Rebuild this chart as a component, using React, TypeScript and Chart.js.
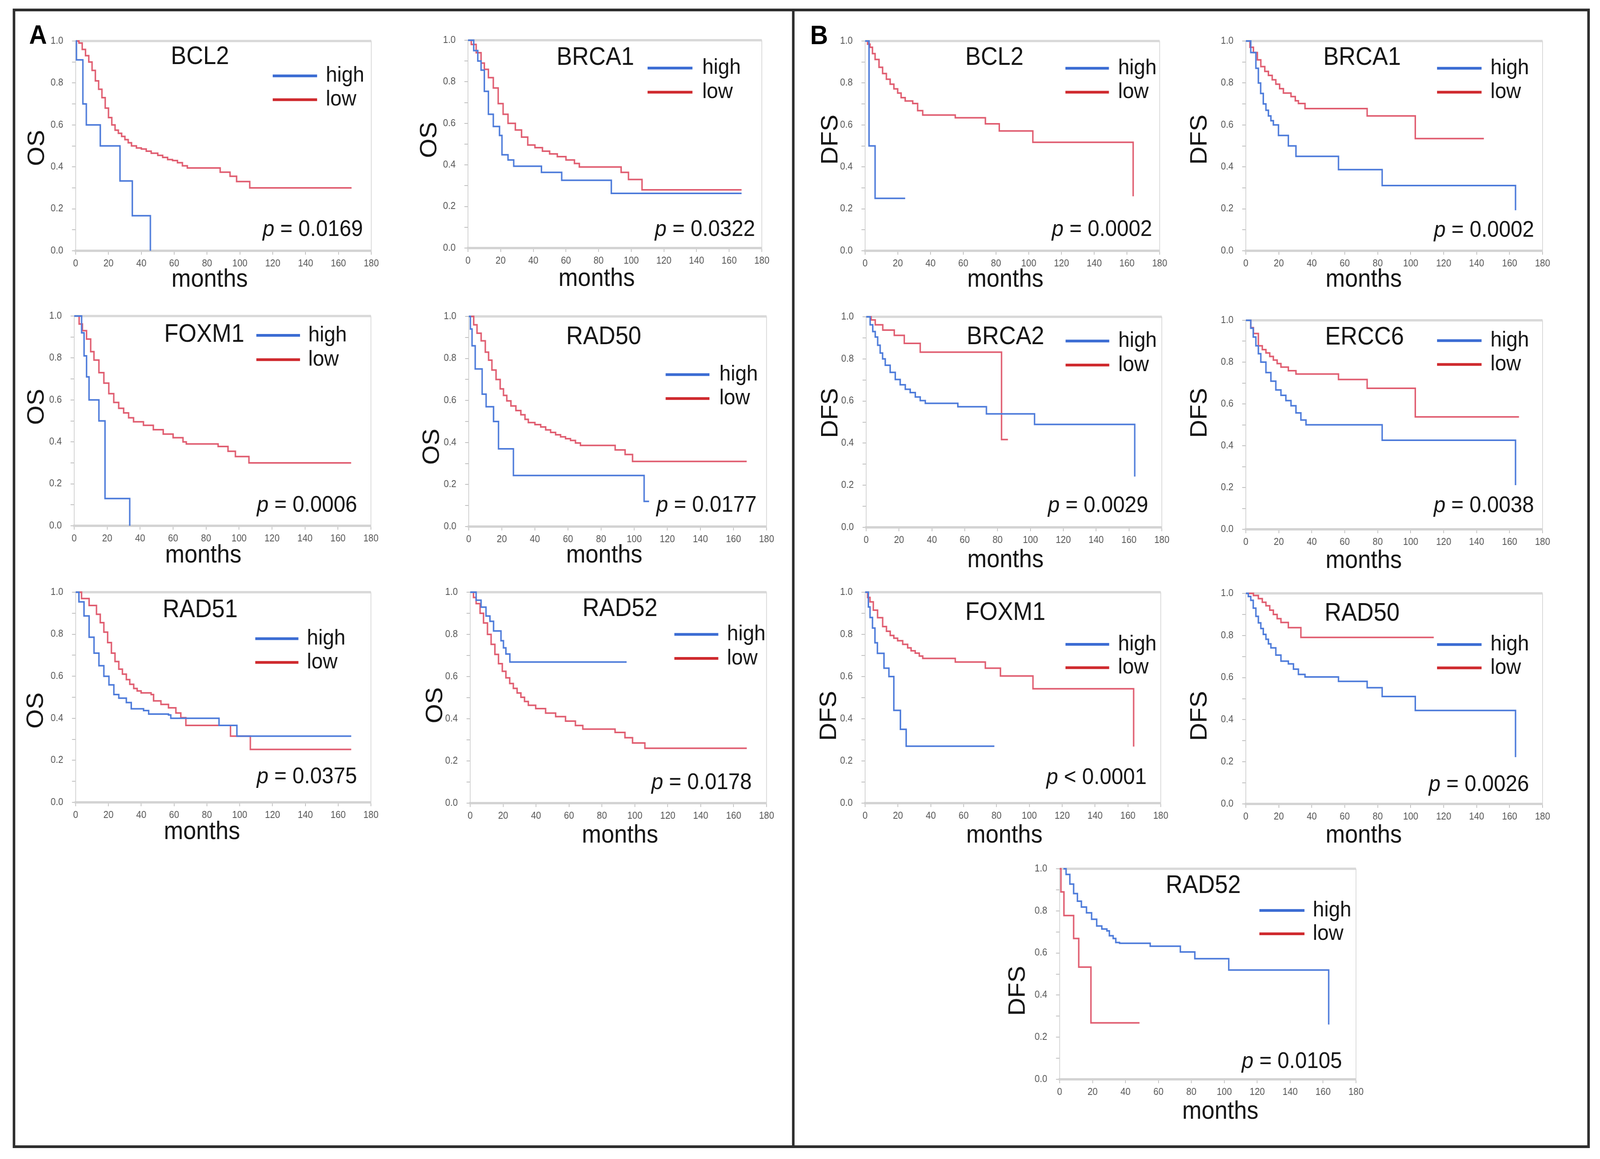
import React, { useEffect, useRef } from 'react';
import { Chart, registerables } from 'chart.js';

Chart.register(...registerables);

type Pt = [number, number];

// ---------- tick values ----------
const monthTicks = [0, 20, 40, 60, 80, 100, 120, 140, 160, 180];
const survTicks = [0, 0.1, 0.2, 0.3, 0.4, 0.5, 0.6, 0.7, 0.8, 0.9, 1.0];
const survLabels = ['0.0', '', '0.2', '', '0.4', '', '0.6', '', '0.8', '', '1.0'];

// ---------- A: overall survival (OS), [month, survival] step points ----------
const osBcl2High: Pt[] = [[0, 1], [0.5, 0.91], [4.4, 0.7], [6.5, 0.6], [15, 0.5], [27, 0.333], [34.5, 0.167], [45.5, 0]];
const osBcl2Low: Pt[] = [[0, 1], [2, 0.99], [4, 0.96], [6, 0.93], [8, 0.9], [10, 0.86], [12, 0.81], [14, 0.77], [16, 0.73], [18, 0.68], [20, 0.635], [22, 0.6], [24, 0.575], [26, 0.56], [28, 0.545], [30, 0.53], [32, 0.515], [34, 0.5], [37, 0.49], [40, 0.485], [43, 0.475], [46, 0.465], [50, 0.455], [53, 0.445], [56, 0.435], [59, 0.43], [62, 0.42], [65, 0.405], [68, 0.395], [88, 0.375], [94, 0.355], [98, 0.33], [106, 0.3], [168, 0.3]];
const osBrca1High: Pt[] = [[0, 1], [3.5, 0.95], [6, 0.9], [8, 0.856], [10, 0.754], [12.5, 0.644], [15.5, 0.585], [19.3, 0.542], [20.8, 0.449], [24.5, 0.424], [28, 0.394], [45, 0.364], [57.4, 0.326], [87.8, 0.263], [167.6, 0.263]];
const osBrca1Low: Pt[] = [[0, 1], [2, 0.98], [5, 0.94], [8, 0.89], [10, 0.86], [12.5, 0.82], [15.5, 0.77], [18.5, 0.695], [21.5, 0.644], [24.5, 0.6], [29, 0.568], [32.8, 0.534], [36.6, 0.496], [41, 0.483], [45.6, 0.466], [50, 0.453], [54.7, 0.44], [60, 0.424], [65.2, 0.407], [68.2, 0.39], [93.8, 0.364], [98.3, 0.33], [106.6, 0.28], [167.6, 0.28]];
const osFoxm1High: Pt[] = [[0, 1], [4.5, 0.92], [6, 0.81], [7.5, 0.71], [9, 0.6], [15, 0.5], [18.7, 0.13], [33.7, 0]];
const osFoxm1Low: Pt[] = [[0, 1], [3, 0.962], [5, 0.93], [7.5, 0.89], [10, 0.83], [12, 0.79], [15, 0.73], [18, 0.68], [21, 0.63], [24, 0.588], [27, 0.56], [30, 0.538], [33, 0.515], [36, 0.496], [42, 0.479], [48, 0.458], [54, 0.437], [60, 0.42], [66, 0.4], [68, 0.39], [87.3, 0.378], [93.3, 0.355], [97.8, 0.33], [106, 0.3], [168, 0.3]];
const osRad50High: Pt[] = [[0, 1], [1, 0.94], [2, 0.86], [3.9, 0.75], [8.1, 0.63], [10.5, 0.57], [15, 0.5], [18, 0.37], [27, 0.243], [106, 0.12], [109, 0.12]];
const osRad50Low: Pt[] = [[0, 1], [3, 0.96], [5, 0.92], [7.5, 0.884], [10, 0.83], [12, 0.792], [14, 0.745], [16.5, 0.7], [19, 0.655], [21, 0.624], [23, 0.598], [25.5, 0.574], [28.5, 0.552], [31.5, 0.532], [34, 0.51], [36, 0.495], [40, 0.485], [43.5, 0.474], [46.5, 0.46], [49.5, 0.448], [52.5, 0.437], [55.5, 0.427], [58.5, 0.418], [61.5, 0.41], [64.5, 0.398], [67.5, 0.386], [88.5, 0.365], [94.5, 0.343], [99, 0.31], [168, 0.31]];
const osRad51High: Pt[] = [[0, 1], [2, 0.954], [5.1, 0.887], [8.2, 0.786], [11.2, 0.71], [14.2, 0.65], [17.2, 0.6], [20.3, 0.559], [23.3, 0.513], [26.3, 0.496], [30.9, 0.475], [33.9, 0.445], [41.4, 0.437], [44.5, 0.42], [56.6, 0.416], [58, 0.4], [87.4, 0.366], [98.3, 0.315], [168, 0.315]];
const osRad51Low: Pt[] = [[0, 1], [3.6, 0.97], [8.2, 0.937], [12.7, 0.895], [15, 0.855], [17.2, 0.81], [19.5, 0.76], [21.8, 0.71], [24, 0.67], [26.3, 0.634], [28.5, 0.61], [30.9, 0.584], [33, 0.562], [35.4, 0.542], [37.5, 0.53], [39.9, 0.521], [46, 0.513], [47.5, 0.483], [52, 0.466], [56.6, 0.45], [61.1, 0.425], [64.1, 0.403], [67.2, 0.366], [94.4, 0.315], [106.5, 0.252], [168, 0.252]];
const osRad52High: Pt[] = [[0, 1], [3.6, 0.962], [6.6, 0.929], [9.6, 0.887], [12, 0.862], [14.2, 0.816], [18.7, 0.77], [20.2, 0.736], [21.7, 0.707], [24.1, 0.669], [95, 0.669]];
const osRad52Low: Pt[] = [[0, 1], [2, 0.975], [3.6, 0.946], [6, 0.9], [8.1, 0.854], [10.5, 0.8], [12.7, 0.753], [15, 0.705], [17.2, 0.661], [19.5, 0.625], [21.7, 0.594], [24, 0.567], [26.2, 0.544], [28.5, 0.522], [30.8, 0.502], [33, 0.482], [35.3, 0.464], [39.8, 0.448], [45.8, 0.427], [51.9, 0.41], [57.9, 0.389], [63.9, 0.368], [68.4, 0.351], [88, 0.335], [94, 0.31], [98.6, 0.285], [106.1, 0.26], [168, 0.26]];

// ---------- B: disease-free survival (DFS) ----------
const dfsBcl2High: Pt[] = [[0, 1], [2.4, 0.5], [6.1, 0.25], [24.5, 0.25]];
const dfsBcl2Low: Pt[] = [[0, 1], [1.5, 0.985], [3, 0.97], [4.5, 0.94], [6.1, 0.912], [8.5, 0.875], [10.7, 0.845], [13, 0.818], [15.3, 0.794], [17.6, 0.772], [19.9, 0.752], [22, 0.73], [24.5, 0.714], [29.1, 0.702], [32.1, 0.668], [35.2, 0.647], [55.1, 0.634], [73.5, 0.605], [82, 0.571], [102.5, 0.517], [163.8, 0.26]];
const dfsBrca1High: Pt[] = [[0, 1], [3, 0.945], [6.1, 0.87], [7.6, 0.8], [9, 0.75], [10.6, 0.7], [12.2, 0.67], [13.7, 0.643], [15.2, 0.62], [16.7, 0.6], [19.8, 0.55], [25.8, 0.5], [30.4, 0.45], [56.2, 0.387], [82.7, 0.311], [163.6, 0.193]];
const dfsBrca1Low: Pt[] = [[0, 1], [2.5, 0.97], [4.6, 0.945], [7, 0.91], [9.1, 0.878], [11.5, 0.855], [13.7, 0.836], [16, 0.815], [18.2, 0.794], [20.5, 0.773], [22.8, 0.752], [27.4, 0.735], [30, 0.715], [31.9, 0.702], [35.9, 0.678], [73.6, 0.643], [102.8, 0.535], [144.4, 0.535]];
const dfsBrca2High: Pt[] = [[0, 1], [2.4, 0.962], [4, 0.93], [5.5, 0.904], [7, 0.865], [8.5, 0.828], [10, 0.8], [11.6, 0.77], [14.6, 0.736], [17.7, 0.702], [20.7, 0.677], [23.8, 0.656], [26.8, 0.64], [29.9, 0.619], [32.9, 0.602], [36, 0.589], [55.8, 0.573], [73.2, 0.539], [102.5, 0.489], [163.5, 0.241]];
const dfsBrca2Low: Pt[] = [[0, 1], [3, 0.985], [5.5, 0.962], [10.1, 0.937], [17.1, 0.912], [23.2, 0.874], [32.9, 0.832], [82.4, 0.417], [86.3, 0.417]];
const dfsErcc6High: Pt[] = [[0, 1], [3, 0.962], [4.5, 0.92], [6.1, 0.878], [7.6, 0.84], [9.1, 0.8], [12.2, 0.75], [15.2, 0.709], [18.2, 0.667], [21.3, 0.641], [24.3, 0.616], [27.4, 0.591], [30.4, 0.557], [33.4, 0.523], [36.5, 0.5], [82.7, 0.426], [163.6, 0.211]];
const dfsErcc6Low: Pt[] = [[0, 1], [3, 0.965], [4.6, 0.937], [7.6, 0.878], [10, 0.86], [12.2, 0.844], [14.5, 0.827], [16.7, 0.81], [19, 0.793], [21.3, 0.776], [25.8, 0.759], [30.4, 0.743], [56.2, 0.717], [73.6, 0.675], [102.8, 0.538], [165.7, 0.538]];
const dfsFoxm1High: Pt[] = [[0, 1], [2, 0.93], [3, 0.88], [4.5, 0.83], [6, 0.76], [7.5, 0.71], [11.5, 0.64], [14.5, 0.6], [17.5, 0.44], [21.5, 0.35], [25, 0.27], [78.7, 0.27]];
const dfsFoxm1Low: Pt[] = [[0, 1], [1.5, 0.975], [3, 0.954], [5, 0.915], [7.6, 0.879], [10.7, 0.837], [13, 0.815], [15.3, 0.795], [17.5, 0.782], [19.8, 0.77], [22.9, 0.753], [25.9, 0.736], [28, 0.722], [30.5, 0.711], [33, 0.697], [35.1, 0.686], [54.9, 0.669], [73.2, 0.64], [82.4, 0.603], [102.2, 0.542], [163.5, 0.268]];
const dfsRad50High: Pt[] = [[0, 1], [1.5, 0.985], [3, 0.967], [4.5, 0.93], [6.1, 0.891], [7.6, 0.86], [9.1, 0.833], [10.6, 0.805], [12.2, 0.782], [13.7, 0.76], [15.2, 0.741], [18.2, 0.707], [21.3, 0.678], [25.8, 0.665], [28.9, 0.64], [31.9, 0.615], [35.9, 0.603], [56.2, 0.582], [73.6, 0.552], [82.7, 0.51], [102.8, 0.444], [163.6, 0.222]];
const dfsRad50Low: Pt[] = [[0, 1], [4.6, 0.99], [7.6, 0.975], [10, 0.958], [12.2, 0.941], [14.5, 0.92], [16.7, 0.9], [19, 0.88], [21.3, 0.862], [25.8, 0.837], [33.4, 0.791], [114, 0.791]];
const dfsRad52High: Pt[] = [[2.3, 1], [3.9, 0.973], [6.2, 0.927], [8.5, 0.882], [10.8, 0.846], [13.2, 0.818], [16.3, 0.791], [19.4, 0.76], [22.5, 0.728], [25.6, 0.714], [28.7, 0.705], [30.2, 0.682], [32.5, 0.669], [34.1, 0.65], [36.4, 0.646], [55, 0.632], [73.3, 0.605], [82.1, 0.573], [102.7, 0.519], [163.4, 0.26]];
const dfsRad52Low: Pt[] = [[0, 1], [0.8, 0.89], [2.6, 0.778], [8.5, 0.669], [11.6, 0.533], [19, 0.268], [48.5, 0.268]];

// ---------- styling ----------
const FONT = '"Liberation Sans", Arial, sans-serif';
const CURVE_BLUE = '#4d7bda';
const CURVE_RED = '#e05d70';
const LEG_BLUE = '#3b6cd3';
const LEG_RED = '#cf2a2e';
const TEXT = '#141414';

const PAGE_W = 4400;
const PAGE_H = 2967;
const W_Y = 170;
const PAD_T = 30;
const PAD_R = 50;
const H_X = 125;

interface Panel {
  key: string; gene: string; ylab: string; high: Pt[]; low: Pt[]; pOp: string; pVal: string;
  x0: number; x180: number; y1: number; y0: number;
  title: [number, number]; leg: [number, number, number, number, number];
  pPos: [number, number]; months: [number, number]; ylabPos: [number, number];
}

const PANELS: Panel[] = [
  { key: 'aBcl2', gene: 'BCL2', ylab: 'OS', high: osBcl2High, low: osBcl2Low, pOp: '=', pVal: '0.0169',
    x0: 208, x180: 1021, y1: 96, y0: 642, title: [75.7, 0.933], leg: [120, 147, 0.834, 0.72, 152.3], pPos: [174.9, 0.109], months: [81.6, 69], ylabPos: [-110, 0.49] },
  { key: 'aBrca1', gene: 'BRCA1', ylab: 'OS', high: osBrca1High, low: osBrca1Low, pOp: '=', pVal: '0.0322',
    x0: 1287, x180: 2095, y1: 94, y0: 635, title: [78, 0.924], leg: [110, 137.5, 0.866, 0.75, 143.5], pPos: [175.9, 0.097], months: [78.8, 74], ylabPos: [-110, 0.52] },
  { key: 'aFoxm1', gene: 'FOXM1', ylab: 'OS', high: osFoxm1High, low: osFoxm1Low, pOp: '=', pVal: '0.0006',
    x0: 204, x180: 1020, y1: 800, y0: 1346, title: [78.9, 0.92], leg: [110.5, 137, 0.908, 0.792, 142], pPos: [171.6, 0.105], months: [78.3, 71], ylabPos: [-107, 0.567] },
  { key: 'aRad50', gene: 'RAD50', ylab: 'OS', high: osRad50High, low: osRad50Low, pOp: '=', pVal: '0.0177',
    x0: 1289, x180: 2108, y1: 801, y0: 1348, title: [81.6, 0.91], leg: [119, 145.5, 0.723, 0.609, 151.5], pPos: [174, 0.109], months: [81.9, 69], ylabPos: [-105, 0.38] },
  { key: 'aRad51', gene: 'RAD51', ylab: 'OS', high: osRad51High, low: osRad51Low, pOp: '=', pVal: '0.0375',
    x0: 208, x180: 1020, y1: 1507, y0: 2054, title: [75.9, 0.924], leg: [109.5, 135.8, 0.779, 0.666, 141], pPos: [171.5, 0.13], months: [77, 71], ylabPos: [-113, 0.437] },
  { key: 'aRad52', gene: 'RAD52', ylab: 'OS', high: osRad52High, low: osRad52Low, pOp: '=', pVal: '0.0178',
    x0: 1293, x180: 2108, y1: 1507, y0: 2056, title: [91, 0.929], leg: [124, 150.7, 0.8, 0.686, 156], pPos: [171, 0.105], months: [91, 78], ylabPos: [-100, 0.464] },
  { key: 'bBcl2', gene: 'BCL2', ylab: 'DFS', high: dfsBcl2High, low: dfsBcl2Low, pOp: '=', pVal: '0.0002',
    x0: 2379, x180: 3189, y1: 96, y0: 642, title: [79, 0.929], leg: [122.4, 149, 0.87, 0.756, 154.6], pPos: [175.4, 0.109], months: [85.7, 69], ylabPos: [-99, 0.53] },
  { key: 'bBrca1', gene: 'BRCA1', ylab: 'DFS', high: dfsBrca1High, low: dfsBrca1Low, pOp: '=', pVal: '0.0002',
    x0: 3426, x180: 4242, y1: 96, y0: 642, title: [70.5, 0.929], leg: [116, 143, 0.87, 0.756, 148.4], pPos: [174.9, 0.105], months: [71.5, 69], ylabPos: [-131, 0.53] },
  { key: 'bBrca2', gene: 'BRCA2', ylab: 'DFS', high: dfsBrca2High, low: dfsBrca2Low, pOp: '=', pVal: '0.0029',
    x0: 2382, x180: 3195, y1: 802, y0: 1350, title: [84.8, 0.912], leg: [121.4, 148, 0.885, 0.771, 153.5], pPos: [171.7, 0.111], months: [84.8, 79], ylabPos: [-102, 0.543] },
  { key: 'bErcc6', gene: 'ERCC6', ylab: 'DFS', high: dfsErcc6High, low: dfsErcc6Low, pOp: '=', pVal: '0.0038',
    x0: 3426, x180: 4242, y1: 811, y0: 1355, title: [72, 0.928], leg: [116, 143, 0.903, 0.789, 148.4], pPos: [174.8, 0.122], months: [71.5, 76], ylabPos: [-131, 0.557] },
  { key: 'bFoxm1', gene: 'FOXM1', ylab: 'DFS', high: dfsFoxm1High, low: dfsFoxm1Low, pOp: '<', pVal: '0.0001',
    x0: 2379, x180: 3192, y1: 1507, y0: 2056, title: [85.4, 0.912], leg: [122, 148.6, 0.753, 0.642, 154], pPos: [171.4, 0.13], months: [84.8, 78], ylabPos: [-103, 0.414] },
  { key: 'bRad50', gene: 'RAD50', ylab: 'DFS', high: dfsRad50High, low: dfsRad50Low, pOp: '=', pVal: '0.0026',
    x0: 3426, x180: 4242, y1: 1510, y0: 2058, title: [70.5, 0.912], leg: [116, 143, 0.757, 0.646, 148.4], pPos: [171.8, 0.1], months: [71.5, 76], ylabPos: [-131, 0.418] },
  { key: 'bRad52', gene: 'RAD52', ylab: 'DFS', high: dfsRad52High, low: dfsRad52Low, pOp: '=', pVal: '0.0105',
    x0: 2914, x180: 3729, y1: 2215, y0: 2763, title: [87.2, 0.927], leg: [121.3, 148.7, 0.802, 0.691, 153.8], pPos: [171.5, 0.093], months: [97.6, 78], ylabPos: [-119, 0.42] },
];

function canvasBox(p: Panel) {
  return {
    left: p.x0 - W_Y,
    top: p.y1 - PAD_T,
    width: p.x180 - p.x0 + W_Y + PAD_R,
    height: p.y0 - p.y1 + PAD_T + H_X,
  };
}

function makeChart(canvas: HTMLCanvasElement, p: Panel) {
  const annot = {
    id: 'kmAnnot',
    beforeDatasetsDraw(chart: any) {
      const { ctx, chartArea: a } = chart;
      ctx.save();
      ctx.strokeStyle = '#d9d9d9';
      ctx.lineWidth = 6;
      ctx.beginPath();
      ctx.moveTo(a.left, a.top);
      ctx.lineTo(a.right, a.top);
      ctx.stroke();
      ctx.strokeStyle = '#d6d6d6';
      ctx.lineWidth = 2;
      ctx.beginPath();
      ctx.moveTo(a.right, a.top);
      ctx.lineTo(a.right, a.bottom);
      ctx.stroke();
      ctx.restore();
    },
    afterDraw(chart: any) {
      const { ctx, chartArea: a } = chart;
      const X = chart.scales.x;
      const Y = chart.scales.y;
      const px = (t: number) => X.getPixelForValue(t);
      const py = (s: number) => Y.getPixelForValue(s);
      ctx.save();
      ctx.fillStyle = TEXT;
      ctx.textBaseline = 'alphabetic';

      // gene title
      const TS = 64;
      ctx.font = `${TS}px ${FONT}`;
      ctx.textAlign = 'center';
      ctx.fillText(p.gene, px(p.title[0]), py(p.title[1]) + 0.36 * TS);

      // legend
      const LS = 56;
      const [lx1, lx2, lyh, lyl, ltx] = p.leg;
      ctx.lineWidth = 7;
      ctx.lineCap = 'butt';
      ctx.strokeStyle = LEG_BLUE;
      ctx.beginPath();
      ctx.moveTo(px(lx1), py(lyh));
      ctx.lineTo(px(lx2), py(lyh));
      ctx.stroke();
      ctx.strokeStyle = LEG_RED;
      ctx.beginPath();
      ctx.moveTo(px(lx1), py(lyl));
      ctx.lineTo(px(lx2), py(lyl));
      ctx.stroke();
      ctx.font = `${LS}px ${FONT}`;
      ctx.textAlign = 'left';
      ctx.fillText('high', px(ltx), py(lyh) + 0.27 * LS);
      ctx.fillText('low', px(ltx), py(lyl) + 0.27 * LS);

      // p value
      const PS = 58;
      const rest = ` ${p.pOp} ${p.pVal}`;
      ctx.font = `italic ${PS}px ${FONT}`;
      const w1 = ctx.measureText('p').width;
      ctx.font = `${PS}px ${FONT}`;
      const w2 = ctx.measureText(rest).width;
      const right = px(p.pPos[0]);
      const base = py(p.pPos[1]) + 0.36 * PS;
      ctx.textAlign = 'left';
      ctx.font = `italic ${PS}px ${FONT}`;
      ctx.fillText('p', right - w1 - w2, base);
      ctx.font = `${PS}px ${FONT}`;
      ctx.fillText(rest, right - w2, base);

      // x axis label
      const MS = 64;
      ctx.font = `${MS}px ${FONT}`;
      ctx.textAlign = 'center';
      ctx.fillText('months', px(p.months[0]), a.bottom + p.months[1] + 0.36 * MS);

      // y axis label
      ctx.save();
      ctx.translate(a.left + p.ylabPos[0], py(p.ylabPos[1]));
      ctx.rotate(-Math.PI / 2);
      ctx.textAlign = 'center';
      ctx.fillText(p.ylab, 0, 0.36 * MS);
      ctx.restore();

      ctx.restore();
    },
  };

  const toXY = (pts: Pt[]) => pts.map(([x, y]) => ({ x, y }));
  const tickFont = { family: FONT, size: 25 };

  return new Chart(canvas, {
    type: 'line',
    data: {
      datasets: [
        { label: 'high', data: toXY(p.high), borderColor: CURVE_BLUE, borderWidth: 4, stepped: true, pointRadius: 0, fill: false, clip: false as any },
        { label: 'low', data: toXY(p.low), borderColor: CURVE_RED, borderWidth: 4, stepped: true, pointRadius: 0, fill: false, clip: false as any },
      ],
    },
    options: {
      animation: false,
      responsive: false,
      devicePixelRatio: 1,
      events: [],
      layout: { padding: { top: PAD_T, right: PAD_R, left: 0, bottom: 0 } },
      plugins: { legend: { display: false }, tooltip: { enabled: false } },
      scales: {
        x: {
          type: 'linear', min: 0, max: 180,
          afterFit: (s: any) => { s.height = H_X; },
          afterBuildTicks: (s: any) => { s.ticks = monthTicks.map((v) => ({ value: v })); },
          ticks: { autoSkip: false, maxRotation: 0, minRotation: 0, font: tickFont, color: '#555', padding: 8, callback: (v: any) => String(v) },
          grid: { drawOnChartArea: false, drawTicks: true, tickLength: 10, color: '#bdbdbd', lineWidth: 2 },
          border: { display: true, color: '#d3d3d3', width: 6 },
        },
        y: {
          type: 'linear', min: 0, max: 1,
          afterFit: (s: any) => { s.width = W_Y; },
          afterBuildTicks: (s: any) => { s.ticks = survTicks.map((v) => ({ value: v })); },
          ticks: { autoSkip: false, font: tickFont, color: '#555', padding: 24, callback: (_v: any, i: number) => survLabels[i] },
          grid: { drawOnChartArea: false, drawTicks: true, tickLength: 10, color: '#bdbdbd', lineWidth: 2 },
          border: { display: true, color: '#cfcfcf', width: 2 },
        },
      },
    } as any,
    plugins: [annot],
  });
}

export default function App() {
  const refs = useRef<(HTMLCanvasElement | null)[]>([]);
  // the browser viewport may be narrower than the page size; fit the 4400x2967 layout into it
  const vw = typeof window !== 'undefined' ? window.innerWidth : PAGE_W;
  const vh = typeof window !== 'undefined' ? window.innerHeight : PAGE_H;
  const sx = vw / PAGE_W;
  const sy = vh / PAGE_H;

  useEffect(() => {
    document.body.style.margin = '0';
    document.body.style.overflow = 'hidden';
    const charts = PANELS.map((p, i) => makeChart(refs.current[i] as HTMLCanvasElement, p));
    return () => {
      charts.forEach((c) => c.destroy());
    };
  }, []);

  return (
    <div style={{ position: 'absolute', left: 0, top: 0, width: vw, height: vh, overflow: 'hidden', background: '#ffffff' }}>
      <div
        style={{
          position: 'absolute', left: 0, top: 0, width: PAGE_W, height: PAGE_H,
          background: '#ffffff', fontFamily: FONT,
          transform: `scale(${sx}, ${sy})`, transformOrigin: '0 0',
        }}
      >
        <div style={{ position: 'absolute', left: 35, top: 22, width: 4337, height: 2917, border: '7px solid #2e2e2e', boxSizing: 'border-box' }} />
        <div style={{ position: 'absolute', left: 2178, top: 22, width: 7, height: 2917, background: '#2e2e2e' }} />
        <div style={{ position: 'absolute', left: 80, top: 54, fontSize: 68, lineHeight: 1, fontWeight: 'bold', color: '#000' }}>A</div>
        <div style={{ position: 'absolute', left: 2228, top: 55, fontSize: 68, lineHeight: 1, fontWeight: 'bold', color: '#000' }}>B</div>
        {PANELS.map((p, i) => {
          const b = canvasBox(p);
          return (
            <canvas
              key={p.key}
              ref={(el) => { refs.current[i] = el; }}
              width={b.width}
              height={b.height}
              style={{ position: 'absolute', left: b.left, top: b.top, width: b.width, height: b.height }}
            />
          );
        })}
      </div>
    </div>
  );
}
